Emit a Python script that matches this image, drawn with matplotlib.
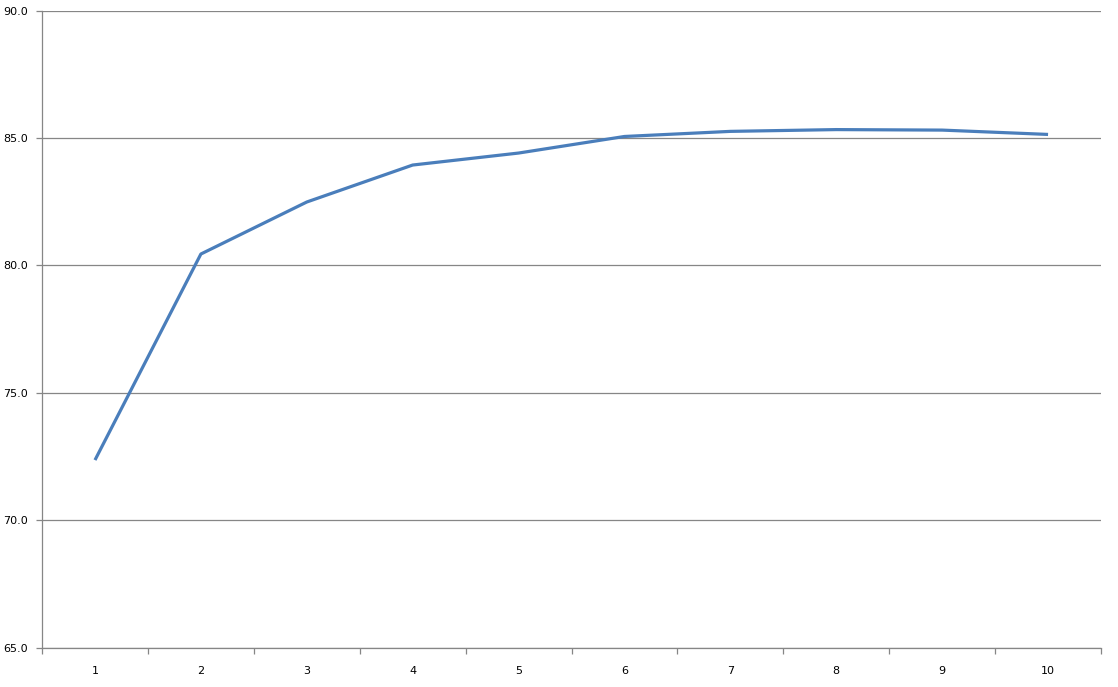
import matplotlib
matplotlib.use('Agg')
from matplotlib import pyplot as plt
from matplotlib.ticker import FixedLocator, NullFormatter

# data
categories = ['1', '2', '3', '4', '5', '6', '7', '8', '9', '10']
values = [72.37, 80.45, 82.49, 83.94, 84.41, 85.06, 85.26, 85.33, 85.31, 85.14]
y_ticks = [65, 70, 75, 80, 85, 90]

grey = '#868686'

fig = plt.figure(figsize=(11.18, 6.87), dpi=100)
ax = fig.add_axes([0.0376, 0.0568, 0.9472, 0.9279])

x = list(range(1, len(categories) + 1))
ax.plot(x, values, color='#4A7EBB', linewidth=2.3, solid_capstyle='butt', zorder=3)

ax.set_xlim(0.5, len(categories) + 0.5)
ax.set_ylim(65, 90)

# y axis: gridlines every 5
ax.set_yticks(y_ticks)
ax.set_yticklabels(['%.1f' % v for v in y_ticks])
ax.yaxis.grid(True, color=grey, linewidth=0.9)
ax.tick_params(axis='y', length=4, width=0.9, color=grey, pad=6, labelsize=8)

# x axis: ticks between categories, labels at the centres
ax.xaxis.set_major_locator(FixedLocator([i + 0.5 for i in range(len(categories) + 1)]))
ax.xaxis.set_major_formatter(NullFormatter())
ax.xaxis.set_minor_locator(FixedLocator(x))
ax.set_xticklabels(categories, minor=True)
ax.tick_params(axis='x', which='major', length=4, width=0.9, color=grey)
ax.tick_params(axis='x', which='minor', length=0, pad=13, labelsize=8)

for s in ['top', 'right']:
    ax.spines[s].set_visible(False)
for s in ['left', 'bottom']:
    ax.spines[s].set_color(grey)
    ax.spines[s].set_linewidth(0.9)

ax.set_axisbelow(True)
fig.savefig('out.png', dpi=100)
